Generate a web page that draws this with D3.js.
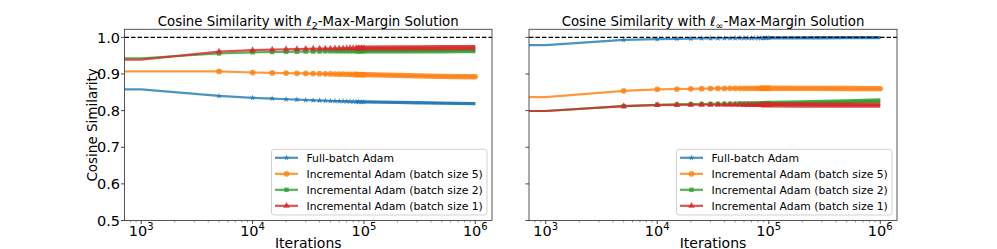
<!DOCTYPE html>
<html><head><meta charset="utf-8">
<script src="https://cdn.jsdelivr.net/npm/d3@7"></script>
<style>body{margin:0;background:#fff} svg{display:block} text{font-family:"DejaVu Sans",sans-serif;fill:#000}</style>
</head><body><svg id="c" width="997" height="249"></svg>
<script>
// ---- data ----
const iterations = [1000, 5000, 10000, 15000, 20000, 25000, 30000, 35000, 40000, 45000, 50000, 55000, 60000, 65000, 70000, 75000, 80000, 85000, 90000, 95000, 100000, 200000, 300000, 500000, 700000, 1000000];
const seriesNames = ["Full-batch Adam", "Incremental Adam (batch size 5)", "Incremental Adam (batch size 2)", "Incremental Adam (batch size 1)"];
const xTickExponents = [3, 4, 5, 6];
const yTicks = [0.5, 0.6, 0.7, 0.8, 0.9, 1.0];
// l2 panel
const l2Full = [0.858, 0.840, 0.835, 0.833, 0.831, 0.830, 0.829, 0.828, 0.8275, 0.827, 0.8265, 0.826, 0.8257, 0.8254, 0.8251, 0.8248, 0.8245, 0.8242, 0.824, 0.8238, 0.8236, 0.8225, 0.8215, 0.8205, 0.8198, 0.819];
const l2Bs5 = [0.907, 0.907, 0.904, 0.903, 0.9025, 0.902, 0.9015, 0.901, 0.9007, 0.9004, 0.900, 0.8998, 0.8996, 0.8994, 0.8992, 0.899, 0.8988, 0.8986, 0.8984, 0.8982, 0.898, 0.896, 0.895, 0.8935, 0.893, 0.8925];
const l2Bs2 = [0.943, 0.956, 0.959, 0.960, 0.9605, 0.961, 0.9612, 0.9614, 0.9616, 0.9617, 0.9618, 0.9619, 0.962, 0.962, 0.9621, 0.9621, 0.9622, 0.9622, 0.9623, 0.9623, 0.9624, 0.9626, 0.9627, 0.9628, 0.9629, 0.963];
const l2Bs1 = [0.939, 0.961, 0.965, 0.9665, 0.9675, 0.968, 0.9685, 0.9688, 0.969, 0.9692, 0.9694, 0.9696, 0.9698, 0.970, 0.9701, 0.9702, 0.9703, 0.9704, 0.9705, 0.9706, 0.9707, 0.971, 0.9713, 0.9716, 0.9718, 0.972];
// l-infinity panel
const linfFull = [0.979, 0.993, 0.995, 0.996, 0.9965, 0.997, 0.9973, 0.9975, 0.9977, 0.9978, 0.9979, 0.998, 0.998, 0.9981, 0.9981, 0.9982, 0.9982, 0.9983, 0.9983, 0.9984, 0.9984, 0.9987, 0.9989, 0.9991, 0.9993, 0.9995];
const linfBs5 = [0.837, 0.854, 0.858, 0.859, 0.8595, 0.860, 0.8603, 0.8605, 0.8607, 0.8608, 0.8609, 0.861, 0.861, 0.861, 0.861, 0.861, 0.861, 0.861, 0.861, 0.861, 0.861, 0.8608, 0.8606, 0.8604, 0.8602, 0.860];
const linfBs2 = [0.799, 0.812, 0.816, 0.817, 0.8175, 0.818, 0.8182, 0.8184, 0.8186, 0.8188, 0.819, 0.8192, 0.8194, 0.8195, 0.8196, 0.8197, 0.8198, 0.8199, 0.820, 0.8201, 0.8202, 0.822, 0.8232, 0.8248, 0.826, 0.827];
const linfBs1 = [0.799, 0.812, 0.815, 0.8155, 0.816, 0.816, 0.816, 0.816, 0.8158, 0.8157, 0.8156, 0.8156, 0.8155, 0.8155, 0.8155, 0.8155, 0.8155, 0.8155, 0.8155, 0.8155, 0.8155, 0.8153, 0.8152, 0.8151, 0.815, 0.815];

// ---- styles ----
const colors = ["#1f77b4", "#ff7f0e", "#2ca02c", "#d62728"];
const symbols = [d3.symbolStar, d3.symbolCircle, d3.symbolSquare, d3.symbolTriangle];
const symSize = [12, 26, 20, 20];
const bandW = [3.3, 5.3, 4.8, 5.3];

const svg = d3.select("#c");
const H = {top: 29.3, bottom: 220.5};
const panels = [
  {x0: 124.5, x1: 492, title: ["Cosine Similarity with ", "2", "-Max-Margin Solution"], data: [l2Full, l2Bs5, l2Bs2, l2Bs1], ylabels: true},
  {x0: 529, x1: 897, title: ["Cosine Similarity with ", "\u221E", "-Max-Margin Solution"], data: [linfFull, linfBs5, linfBs2, linfBs1], ylabels: false}
];
const y = d3.scaleLinear().domain([0.5, 1.022]).range([H.bottom, H.top]);

panels.forEach((p, pi) => {
  const x = d3.scaleLog().domain([Math.pow(10, 2.85), Math.pow(10, 6.15)]).range([p.x0, p.x1]);
  const g = svg.append("g");
  const cid = "clip" + pi;
  svg.append("clipPath").attr("id", cid).append("rect")
    .attr("x", p.x0).attr("y", H.top).attr("width", p.x1 - p.x0).attr("height", H.bottom - H.top);
  const plot = g.append("g").attr("clip-path", `url(#${cid})`);

  p.data.forEach((vals, si) => {
    const pts = iterations.map((it, i) => [it, vals[i]]);
    // matplotlib clips the iteration-0 point to the far left of the log axis
    const linePts = [[x.domain()[0] / 10, vals[0]]].concat(pts);
    const line = d3.line().x(d => x(d[0])).y(d => y(d[1]));
    plot.append("path").attr("d", line(linePts)).attr("fill", "none")
      .attr("stroke", colors[si]).attr("stroke-width", 2.2).attr("stroke-opacity", 0.8);
    // dense marker region (markers every 5000 iterations overlap into a band)
    const dense = pts.filter(d => d[0] >= 85000);
    plot.append("path").attr("d", line(dense)).attr("fill", "none")
      .attr("stroke", colors[si]).attr("stroke-width", bandW[si]).attr("stroke-opacity", 0.85)
      .attr("stroke-linecap", si === 1 ? "round" : "butt");
    const mk = pts.filter(d => d[0] >= 5000 && d[0] <= 100000);
    plot.selectAll(null).data(mk).enter().append("path")
      .attr("d", d3.symbol().type(symbols[si]).size(symSize[si]))
      .attr("transform", d => `translate(${x(d[0])},${y(d[1])})`)
      .attr("fill", colors[si]).attr("fill-opacity", 0.8);
  });

  // dashed reference line at 1.0
  plot.append("line").attr("x1", p.x0).attr("x2", p.x1).attr("y1", y(1)).attr("y2", y(1))
    .attr("stroke", "#000").attr("stroke-width", 1.3).attr("stroke-dasharray", "4.5,2");

  // frame
  g.append("rect").attr("x", p.x0).attr("y", H.top).attr("width", p.x1 - p.x0).attr("height", H.bottom - H.top)
    .attr("fill", "none").attr("stroke", "#444").attr("stroke-width", 0.9);

  // y ticks
  yTicks.forEach(t => {
    g.append("line").attr("x1", p.x0 - 3.5).attr("x2", p.x0).attr("y1", y(t)).attr("y2", y(t))
      .attr("stroke", "#333").attr("stroke-width", 0.9);
    if (p.ylabels) g.append("text").attr("x", p.x0 - 4.5).attr("y", y(t)).attr("dy", "0.36em")
      .attr("text-anchor", "end").attr("font-size", 14.5).text(t.toFixed(1));
  });
  // x ticks (major + minor)
  xTickExponents.forEach(e => {
    const v = Math.pow(10, e);
    g.append("line").attr("x1", x(v)).attr("x2", x(v)).attr("y1", H.bottom).attr("y2", H.bottom + 3.5)
      .attr("stroke", "#333").attr("stroke-width", 0.9);
    const tx = g.append("text").attr("x", x(v)).attr("y", H.bottom + 15.5).attr("text-anchor", "middle").attr("font-size", 14.5);
    tx.append("tspan").text("10");
    tx.append("tspan").attr("dy", -6.5).attr("font-size", 10).text(String(e));
  });
  d3.range(2, 7).forEach(e => {
    d3.range(2, 10).forEach(m => {
      const v = m * Math.pow(10, e);
      if (x(v) < p.x0 || x(v) > p.x1) return;
      g.append("line").attr("x1", x(v)).attr("x2", x(v)).attr("y1", H.bottom).attr("y2", H.bottom + 2)
        .attr("stroke", "#555").attr("stroke-width", 0.6);
    });
  });

  // title
  const cx = (p.x0 + p.x1) / 2;
  const tt = g.append("text").attr("x", cx).attr("y", 25.5).attr("text-anchor", "middle").attr("font-size", 13.3);
  tt.append("tspan").text(p.title[0]);
  tt.append("tspan").attr("font-style", "italic").text("\u2113");
  tt.append("tspan").attr("font-size", 9.5).attr("dy", 3).text(p.title[1]);
  tt.append("tspan").attr("dy", -3).text(p.title[2]);

  // x label
  g.append("text").attr("x", cx).attr("y", 247.5).attr("text-anchor", "middle").attr("font-size", 14).text("Iterations");
  if (p.ylabels) g.append("text").attr("transform", `translate(97,${(H.top + H.bottom) / 2}) rotate(-90)`)
    .attr("text-anchor", "middle").attr("font-size", 13.5).text("Cosine Similarity");

  // legend
  const lw = 215.5, lh = 65.7;
  const lx = p.x1 - 5 - lw, ly = H.bottom - 5.5 - lh;
  const lg = g.append("g");
  lg.append("rect").attr("x", lx).attr("y", ly).attr("width", lw).attr("height", lh).attr("rx", 2.5)
    .attr("fill", "#fff").attr("fill-opacity", 0.8).attr("stroke", "#ccc").attr("stroke-width", 0.9);
  seriesNames.forEach((name, si) => {
    const ry = ly + 8.5 + si * 16;
    lg.append("line").attr("x1", lx + 3.5).attr("x2", lx + 26.5).attr("y1", ry).attr("y2", ry)
      .attr("stroke", colors[si]).attr("stroke-width", 2.2).attr("stroke-opacity", 0.8);
    lg.append("path").attr("d", d3.symbol().type(symbols[si]).size(symSize[si]))
      .attr("transform", `translate(${lx + 15},${ry})`).attr("fill", colors[si]).attr("fill-opacity", 0.8);
    lg.append("text").attr("x", lx + 35).attr("y", ry).attr("dy", "0.36em").attr("font-size", 10.8).text(name);
  });
});
</script></body></html>
